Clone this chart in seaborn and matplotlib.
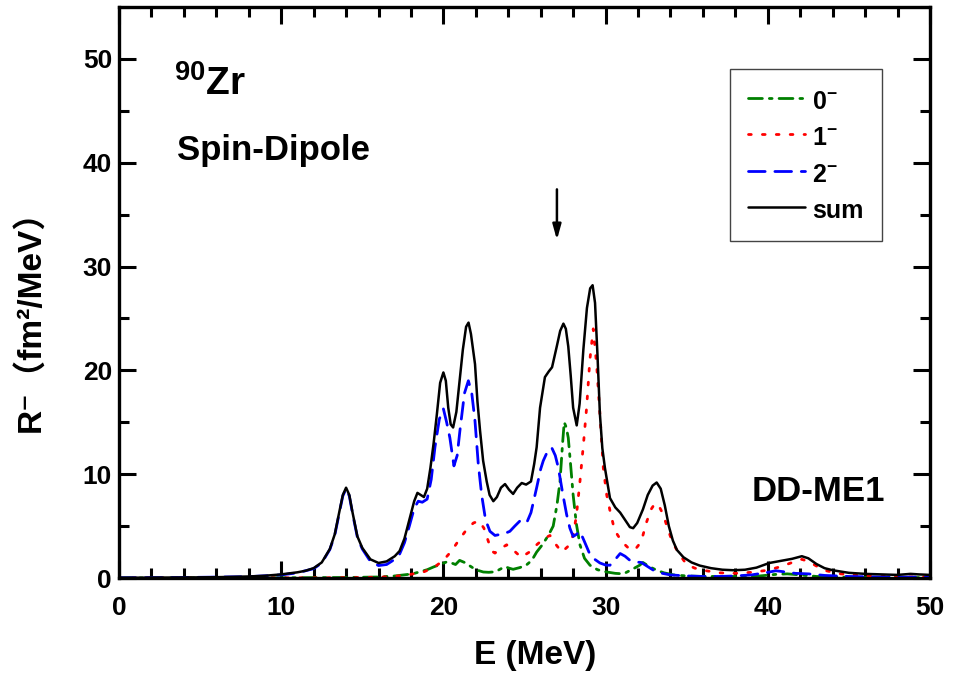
import numpy as np
import pandas as pd
import matplotlib
matplotlib.use("Agg")
import matplotlib.pyplot as plt
import seaborn as sns
from matplotlib.lines import Line2D
from matplotlib.ticker import MultipleLocator

# ── Data ──────────────────────────────────────────────────────────────────────

sum_E = [0, 4, 6, 8, 9, 10, 11, 11.5, 12, 12.5, 13, 13.3, 13.6, 13.8, 14.0, 14.2, 14.4,
         14.7, 15.0, 15.5, 16.0, 16.5, 17.0, 17.3, 17.6, 17.9, 18.2, 18.4, 18.6, 18.8,
         19.0, 19.2, 19.4, 19.6, 19.8, 20.0, 20.15, 20.3, 20.45, 20.6, 20.8, 21.0, 21.2,
         21.4, 21.55, 21.7, 21.95, 22.1, 22.26, 22.45, 22.67, 22.85, 23.08, 23.3, 23.55,
         23.8, 24.05, 24.3, 24.55, 24.83, 25.1, 25.4, 25.6, 25.75, 25.96, 26.26, 26.5,
         26.7, 26.99, 27.2, 27.4, 27.55, 27.7, 27.85, 28.0, 28.22, 28.4, 28.63, 28.85,
         29.05, 29.2, 29.35, 29.5, 29.65, 29.8, 29.96, 30.27, 30.6, 30.9, 31.2, 31.5,
         31.7, 31.95, 32.3, 32.6, 32.9, 33.15, 33.4, 33.65, 33.9, 34.15, 34.4, 34.8,
         35.3, 35.8, 36.5, 37.2, 37.9, 38.6, 39.3, 40.1, 40.8, 41.5, 42.1, 42.5, 43.0,
         43.5, 44.0, 45.0, 46.0, 47.0, 48.0, 48.8, 49.3, 50]
sum_R = [0.02, 0.05, 0.08, 0.15, 0.22, 0.35, 0.55, 0.7, 0.95, 1.5, 2.8, 4.2, 6.5, 8.0, 8.7,
         8.0, 6.3, 4.0, 2.9, 1.8, 1.45, 1.6, 2.1, 2.6, 3.8, 5.6, 7.4, 8.2, 8.0, 7.8,
         8.6, 10.6, 13.0, 15.8, 18.8, 19.8, 19.0, 16.4, 14.8, 14.5, 16.0, 19.0, 22.0,
         24.2, 24.6, 23.5, 20.6, 17.0, 14.2, 11.3, 9.3, 8.0, 7.4, 7.8, 8.7,
         9.05, 8.5, 8.1, 8.7, 9.15, 9.0, 9.3, 11.0, 12.6, 16.4, 19.35, 19.9,
         20.3, 22.3, 23.8, 24.5, 24.0, 22.3, 19.5, 16.4, 14.7, 16.8, 22.0, 26.0,
         27.9, 28.2, 26.5, 21.5, 15.8, 12.5, 10.6, 7.7, 6.8, 6.3, 5.6, 4.9,
         4.8, 5.3, 6.6, 8.0, 8.9, 9.2, 8.6, 7.0, 5.0, 3.6, 2.7, 2.0,
         1.5, 1.2, 0.95, 0.8, 0.75, 0.8, 1.0, 1.45, 1.65, 1.85, 2.1, 1.9, 1.35,
         0.95, 0.75, 0.5, 0.4, 0.35, 0.3, 0.4, 0.35, 0.3]

m2_E = [0, 4, 8, 10, 11, 12, 12.5, 13, 13.3, 13.6, 13.8, 14.0, 14.2, 14.4, 14.7, 15.0,
        15.5, 16.0, 16.5, 17.0, 17.3, 17.6, 17.9, 18.2, 18.45, 18.7, 19.0, 19.25, 19.48,
        19.75, 20.0, 20.2, 20.4, 20.65, 20.85, 21.02, 21.3, 21.54, 21.75, 21.95, 22.15,
        22.36, 22.6, 22.87, 23.18, 23.5, 23.8, 24.1, 24.4, 24.72, 24.95, 25.13, 25.4,
        25.75, 26.0, 26.16, 26.45, 26.68, 26.9, 27.09, 27.35, 27.6, 27.8, 28.0, 28.2,
        28.42, 28.7, 29.0, 29.24, 29.65, 30.0, 30.27, 30.6, 30.9, 31.2, 31.5, 31.8,
        32.2, 32.6, 33.0, 33.5, 34, 35, 36, 37, 38, 39, 40, 40.5, 41, 41.7, 42.5, 43.5,
        45, 47, 50]
m2_R = [0.02, 0.05, 0.13, 0.3, 0.5, 0.9, 1.45, 2.75, 4.1, 6.4, 7.9, 8.6, 7.9, 6.2, 3.9, 2.8,
        1.6, 1.2, 1.3, 1.8, 2.3, 3.4, 5.0, 6.7, 7.4, 7.3, 7.6, 9.5, 12.6,
        15.3, 16.3, 15.0, 13.5, 10.8, 11.8, 14.2, 17.8, 19.0, 17.8, 15.1, 11.0,
        8.0, 5.6, 4.5, 4.1, 4.2, 4.3, 4.5, 5.0, 5.5, 5.4, 5.3, 6.3,
        8.7, 10.5, 11.3, 12.3, 12.55, 11.8, 10.6, 8.2, 6.1, 4.8, 4.0, 4.2,
        4.5, 3.5, 2.4, 1.9, 1.45, 1.25, 1.23, 1.8, 2.36, 2.1, 1.7, 1.55,
        1.5, 1.1, 0.7, 0.45, 0.3, 0.2, 0.15, 0.15, 0.2, 0.3, 0.55, 0.7, 0.6, 0.45, 0.4, 0.25,
        0.15, 0.1, 0.08]

m0_E = [0, 10, 14, 16, 17, 18.1, 19.0, 19.4, 19.8, 20.2, 20.5, 20.75, 21.0, 21.3, 21.6,
        22.0, 22.46, 22.8, 23.2, 23.5, 23.8, 24.05, 24.3, 24.7, 25.1, 25.45, 25.75, 26.1,
        26.47, 26.77, 27.0, 27.19, 27.35, 27.45, 27.58, 27.7, 27.85, 28.0, 28.2, 28.42,
        28.7, 29.04, 29.5, 30.07, 30.6, 31.1, 31.6, 32.1, 32.3, 32.7, 33.15, 33.6, 34.2,
        35, 36, 38, 39.5, 40.5, 41.2, 42, 43, 45, 50]
m0_R = [0.0, 0.02, 0.05, 0.1, 0.2, 0.4, 0.8, 1.07, 1.3, 1.55, 1.45, 1.3, 1.7, 1.5, 1.2,
        0.8, 0.58, 0.55, 0.6, 0.85, 1.1, 0.95, 0.84, 1.0, 1.23, 1.7, 2.5, 3.2,
        4.1, 5.0, 7.0, 9.3, 13.0, 15.0, 14.5, 13.5, 10.8, 8.0, 5.2, 3.2,
        1.9, 1.23, 0.8, 0.58, 0.45, 0.4, 0.8, 1.23, 1.5, 1.1, 0.75, 0.5, 0.3,
        0.2, 0.15, 0.15, 0.2, 0.35, 0.4, 0.3, 0.15, 0.08, 0.03]

m1_E = [0, 12, 15, 16, 16.9, 17.8, 18.77, 19.4, 20.0, 20.5, 21.02, 21.45, 21.85, 22.2,
        22.5, 22.8, 23.08, 23.18, 23.5, 23.9, 24.3, 24.8, 25.3, 25.75, 26.2, 26.57,
        26.95, 27.3, 27.65, 28.0, 28.2, 28.42, 28.63, 28.83, 29.03, 29.24, 29.45, 29.65,
        29.86, 30.07, 30.27, 30.48, 30.68, 31.0, 31.4, 31.8, 32.1, 32.3, 32.53, 32.8,
        33.05, 33.3, 33.56, 33.8, 34.0, 34.25, 34.5, 35.0, 35.5, 36.2, 37, 38, 39, 40,
        40.8, 41.6, 42.1, 42.5, 43.1, 43.6, 44.5, 46, 48, 50]
m1_R = [0.0, 0.02, 0.05, 0.08, 0.15, 0.3, 0.58, 1.0, 1.7, 2.6, 3.8, 4.7, 5.3, 5.5,
        4.8, 3.4, 2.5, 2.4, 2.8, 3.2, 2.7, 2.0, 2.5, 3.2, 3.8, 4.1,
        3.2, 2.5, 3.0, 4.1, 6.0, 9.3, 12.8, 16.4, 21.0, 24.0, 20.5, 15.8,
        10.6, 8.0, 6.5, 5.1, 4.3, 3.5, 2.9, 2.7, 3.3, 4.1, 5.4, 6.6,
        7.2, 6.9, 6.1, 4.9, 4.0, 3.1, 2.4, 1.3, 0.95, 0.7, 0.5, 0.45, 0.55, 0.75,
        1.1, 1.55, 1.8, 1.6, 1.07, 0.7, 0.4, 0.2, 0.12, 0.08]

series_labels = ["0$^{-}$", "1$^{-}$", "2$^{-}$", "sum"]
arrow_E = 27.0
arrow_R = (37.7, 32.3)

# ── Style ─────────────────────────────────────────────────────────────────────

sns.set_style("ticks")
plt.rcParams["font.family"] = ["Liberation Sans", "DejaVu Sans", "Noto Sans CJK SC"]
plt.rcParams["font.weight"] = "bold"
plt.rcParams["mathtext.fontset"] = "custom"
plt.rcParams["mathtext.rm"] = "Liberation Sans:bold"
plt.rcParams["mathtext.bf"] = "Liberation Sans:bold"
plt.rcParams["mathtext.default"] = "bf"
for key in ["text.color", "axes.labelcolor", "xtick.color", "ytick.color", "axes.edgecolor"]:
    plt.rcParams[key] = "black"

fig, ax = plt.subplots(figsize=(9.62, 6.77), dpi=100)
fig.subplots_adjust(left=0.1237, right=0.9667, bottom=0.1462, top=0.9897)

styles = [
    (m0_E, m0_R, "#008000", (0, (5, 2.5, 1, 2.5))),
    (m1_E, m1_R, "#ff0000", (0, (1, 4))),
    (m2_E, m2_R, "#0000ff", (0, (6, 3.5))),
    (sum_E, sum_R, "black", "-"),
]
handles = []
for (E, R, col, ls), lab in zip(styles, series_labels):
    df = pd.DataFrame({"E": E, "R": R})
    lw = 2.0 if ls != "-" else 1.8
    sns.lineplot(data=df, x="E", y="R", ax=ax, color=col, lw=lw,
                 linestyle=ls, dash_capstyle="round", estimator=None, sort=False)
    handles.append(Line2D([], [], color=col, lw=lw, linestyle=ls,
                          dash_capstyle="round", label=lab))

ax.set_xlim(0, 50)
ax.set_ylim(0, 55)
ax.xaxis.set_major_locator(MultipleLocator(10))
ax.xaxis.set_minor_locator(MultipleLocator(2))
ax.yaxis.set_major_locator(MultipleLocator(10))
ax.yaxis.set_minor_locator(MultipleLocator(5))
ax.tick_params(which="both", direction="in", top=True, right=True, width=2.2,
               labelsize=19)
ax.tick_params(axis="y", pad=5)
ax.tick_params(axis="x", pad=13)
ax.tick_params(which="major", length=12)
ax.tick_params(which="minor", length=7)
for sp in ax.spines.values():
    sp.set_linewidth(2.4)

ax.set_xlabel("E (MeV)", fontsize=24, fontweight="bold")
ax.set_ylabel("R⁻（fm²/MeV）", fontsize=24, fontweight="bold")
ax.xaxis.set_label_coords(0.513, -0.109)
ax.yaxis.set_label_coords(-0.09, 0.464)

ax.text(3.4, 47.6, "$^{90}$Zr", fontsize=28, fontweight="bold", va="center")
ax.text(3.6, 41.2, "Spin-Dipole", fontsize=25, fontweight="bold", va="center")
ax.text(39.0, 8.3, "DD-ME1", fontsize=25, fontweight="bold", va="center")

ax.annotate("", xy=(arrow_E, arrow_R[1]), xytext=(arrow_E, arrow_R[0]),
            arrowprops=dict(arrowstyle="-|>,head_width=0.25,head_length=0.9",
                            color="black", lw=1.8))

leg = ax.legend(handles=handles, loc="upper left", bbox_to_anchor=(0.753, 0.891),
                borderaxespad=0, fontsize=18, handlelength=2.3, handleheight=1.3,
                labelspacing=0.36, borderpad=0.72, handletextpad=0.28,
                fancybox=False, framealpha=1)
leg.get_frame().set_edgecolor("#444444")
leg.get_frame().set_linewidth(1.0)

plt.savefig("out.png", dpi=100)
plt.close()
